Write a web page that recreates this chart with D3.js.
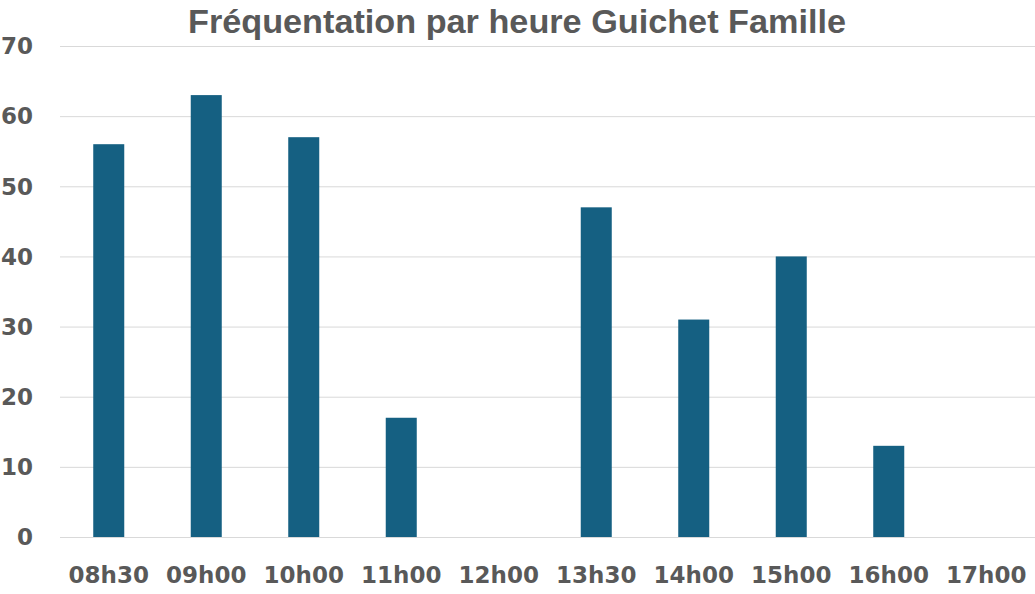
<!DOCTYPE html>
<html><head><meta charset="utf-8">
<script src="https://cdn.jsdelivr.net/npm/d3@7"></script>
<style>body{margin:0;background:#fff}svg{display:block}</style>
</head><body>
<svg id="c" width="1035" height="594"></svg>
<script>
const categories = ["08h30","09h00","10h00","11h00","12h00","13h30","14h00","15h00","16h00","17h00"];
const values = [56,63,57,17,0,47,31,40,13,0];
const yTicks = [0,10,20,30,40,50,60,70];
const title = "Fréquentation par heure Guichet Famille";

const W=1035,H=594;
const m={left:60,right:0,top:46,bottom:57};
const svg=d3.select("#c");
const font="'DejaVu Sans', sans-serif";
const x=d3.scaleBand().domain(categories).range([m.left,W-m.right]).paddingInner(0.682).paddingOuter(0.341);
const y=d3.scaleLinear().domain([0,70]).range([H-m.bottom,m.top]);

svg.append("g").selectAll("line").data(yTicks).join("line")
 .attr("x1",m.left).attr("x2",W-m.right)
 .attr("y1",d=>y(d)+0.5).attr("y2",d=>y(d)+0.5)
 .attr("stroke","#d9d9d9").attr("stroke-width",1);

svg.append("g").selectAll("rect").data(values).join("rect")
 .attr("x",(d,i)=>x(categories[i])).attr("width",x.bandwidth())
 .attr("y",d=>y(d)).attr("height",d=>y(0)-y(d))
 .attr("fill","#156082");

svg.append("g").selectAll("text").data(yTicks).join("text")
 .attr("x",33).attr("y",d=>y(d)).attr("dy","0.36em")
 .attr("text-anchor","end").attr("font-family",font).attr("font-weight","bold")
 .attr("font-size",23).attr("fill","#595959").text(d=>d);

svg.append("g").selectAll("text").data(categories).join("text")
 .attr("x",d=>x(d)+x.bandwidth()/2).attr("y",583)
 .attr("text-anchor","middle").attr("font-family",font).attr("font-weight","bold")
 .attr("font-size",23).attr("fill","#595959").text(d=>d);

svg.append("text").attr("x",517).attr("y",33).attr("text-anchor","middle")
 .attr("font-family","'Liberation Sans', Arial, sans-serif").attr("font-weight","bold").attr("font-size",33)
 .attr("fill","#595959").attr("textLength",658).attr("lengthAdjust","spacingAndGlyphs").text(title);
</script>
</body></html>
